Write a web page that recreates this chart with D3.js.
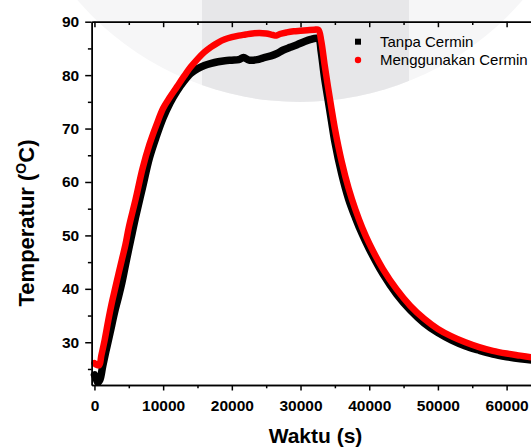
<!DOCTYPE html>
<html><head><meta charset="utf-8">
<script src="https://cdn.jsdelivr.net/npm/d3@7"></script>
<style>body{margin:0;background:#fff}svg{display:block}</style>
</head><body><div id="chart"></div>
<script>
// ---- data ----
const seriesNames = ["Tanpa Cermin", "Menggunakan Cermin"];
const tanpaTime = [0,300,500,800,1200,1700,2260,3000,3500,4000,4440,5000,5500,6000,7000,8000,9000,10000,11000,12000,13000,14000,15000,16000,17000,18000,19000,20000,21000,21700,22500,23700,24500,25700,26500,27500,28500,29500,30600,31500,32300,32700,33000,33500,34000,34500,35000,36000,37000,38000,39000,40000,42000,44000,46000,48000,50000,52000,54000,56000,58000,60000,62000,64000];
const tanpaTemp = [23.9,23.0,22.5,23.0,25.5,28.5,31.7,36.0,38.5,41.2,44.0,47.5,50.5,53.5,59.0,64.5,68.5,72.0,74.8,77.0,78.8,80.3,81.2,81.8,82.2,82.5,82.7,82.8,82.9,83.3,82.8,82.9,83.2,83.6,84.0,84.7,85.2,85.7,86.3,86.7,86.9,86.7,84.5,79.5,75.5,71.5,67.5,61.5,56.8,53.3,50.2,47.5,42.8,39.0,36.0,33.6,31.8,30.4,29.3,28.5,27.8,27.3,26.9,26.6];
const cerminTime = [0,300,700,1000,1500,2000,2500,3000,3500,4000,4500,5000,6000,7000,8000,9000,10000,11000,12000,13000,14000,15000,16000,17000,18000,19000,20000,21000,22000,23000,24000,25000,26000,26500,27000,28000,29000,30000,31000,32000,32600,33000,33500,34000,34500,35000,36000,37000,38000,39000,40000,42000,44000,46000,48000,50000,52000,54000,56000,58000,60000,62000,64000];
const cerminTemp = [26.1,25.8,25.7,27.5,30.5,34.0,37.2,40.0,42.8,45.5,48.2,51.5,56.8,62.5,67.0,70.6,73.8,75.9,77.8,79.7,81.5,83.0,84.3,85.3,86.1,86.7,87.1,87.4,87.6,87.8,87.9,87.8,87.5,87.4,87.7,88.0,88.2,88.3,88.4,88.5,88.5,86.5,82.0,77.8,73.8,70.0,63.8,58.8,54.8,51.4,48.5,43.7,39.9,36.8,34.4,32.5,31.1,30.0,29.1,28.4,27.9,27.5,27.1];
const xMajorTicks = [0,10000,20000,30000,40000,50000,60000];
const yMajorTicks = [30,40,50,60,70,80,90];
const xTitle = "Waktu (s)";

// ---- layout ----
const W = 531, H = 448;
const x = d3.scaleLinear().domain([-400, 70000]).range([91.7, 575.3]);
const y = d3.scaleLinear().domain([22, 90]).range([385, 21.7]);

const svg = d3.select("#chart").append("svg").attr("width", W).attr("height", H)
  .style("font-family", "'Liberation Sans', Arial, sans-serif");

// watermark
const defs = svg.append("defs");
defs.append("clipPath").attr("id","wm").append("circle").attr("cx",300).attr("cy",-192).attr("r",294);
svg.append("circle").attr("cx",300).attr("cy",-192).attr("r",294).attr("fill","#f6f6f7");
svg.append("rect").attr("x",202).attr("y",0).attr("width",207).attr("height",120)
  .attr("fill","#e7e7e9").attr("clip-path","url(#wm)");

const toPts = (ts, vs) => ts.map((t,i)=>[t, vs[i]]);
const line = d3.line().x(d=>x(d[0])).y(d=>y(d[1])).curve(d3.curveCatmullRom.alpha(0.5));

svg.append("path").datum(toPts(tanpaTime, tanpaTemp))
  .attr("d", line).attr("fill","none").attr("stroke","#000").attr("stroke-width",7.5)
  .attr("stroke-linejoin","round").attr("stroke-linecap","round");
svg.append("path").datum(toPts(cerminTime, cerminTemp))
  .attr("d", line).attr("fill","none").attr("stroke","#ff0000").attr("stroke-width",6.5)
  .attr("stroke-linejoin","round").attr("stroke-linecap","round");

// axes
const xMinor = d3.range(5000, 70000, 10000);
const yMinor = d3.range(25, 90, 10);
function styleAxis(g){ g.selectAll("path.domain").attr("stroke","#000").attr("stroke-width",1.5);
  g.selectAll("line").attr("stroke","#000").attr("stroke-width",1.5); }

const gx = svg.append("g").attr("transform","translate(0,385)")
  .call(d3.axisBottom(x).tickValues(xMajorTicks).tickSize(5.5).tickPadding(9).tickSizeOuter(0).tickFormat(d3.format("d")));
gx.selectAll("text").attr("font-size","15.5px").attr("font-weight","bold").attr("fill","#000");
styleAxis(gx);
const gxm = svg.append("g").attr("transform","translate(0,385)")
  .call(d3.axisBottom(x).tickValues(xMinor).tickSize(3.3).tickFormat("").tickSizeOuter(0));
styleAxis(gxm);

const gt = svg.append("g").attr("transform","translate(0,21.7)")
  .call(d3.axisBottom(x).tickValues(xMajorTicks).tickSize(5.5).tickFormat("").tickSizeOuter(0));
styleAxis(gt);
const gtm = svg.append("g").attr("transform","translate(0,21.7)")
  .call(d3.axisBottom(x).tickValues(xMinor).tickSize(3.3).tickFormat("").tickSizeOuter(0));
styleAxis(gtm);

const gy = svg.append("g").attr("transform","translate(91.7,0)")
  .call(d3.axisLeft(y).tickValues(yMajorTicks).tickSize(6.5).tickPadding(6).tickSizeOuter(0));
gy.selectAll("text").attr("font-size","15.5px").attr("font-weight","bold").attr("fill","#000");
styleAxis(gy);
const gym = svg.append("g").attr("transform","translate(91.7,0)")
  .call(d3.axisLeft(y).tickValues(yMinor).tickSize(3.8).tickFormat("").tickSizeOuter(0));
styleAxis(gym);

// titles
svg.append("text").attr("x",315.5).attr("y",443).attr("text-anchor","middle")
  .attr("font-size","21px").attr("font-weight","bold").text(xTitle);
const yt = svg.append("text").attr("transform","translate(33.5,223) rotate(-90)")
  .attr("text-anchor","middle").attr("font-size","22px").attr("font-weight","bold");
yt.append("tspan").text("Temperatur (");
yt.append("tspan").attr("font-size","14px").attr("dy","-8").text("O");
yt.append("tspan").attr("dy","8").text("C)");

// legend
const leg = svg.append("g");
leg.append("rect").attr("x",355).attr("y",38.7).attr("width",6).attr("height",6).attr("fill","#000");
leg.append("circle").attr("cx",358).attr("cy",60).attr("r",3.2).attr("fill","#ff0000");
leg.append("text").attr("x",380).attr("y",46.8).attr("font-size","15px").text(seriesNames[0]);
leg.append("text").attr("x",380).attr("y",65.3).attr("font-size","15px").text(seriesNames[1]);
</script></body></html>
